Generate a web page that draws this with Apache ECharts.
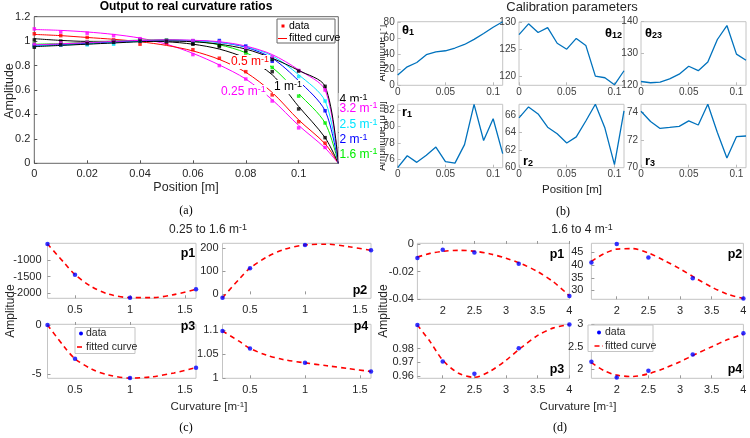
<!DOCTYPE html>
<html><head><meta charset="utf-8">
<script src="https://cdn.jsdelivr.net/npm/echarts@6.0.0/dist/echarts.min.js"></script>
<style>html,body{margin:0;padding:0;background:#fff}#c{width:750px;height:438px}</style>
</head><body><div id="c"></div>
<script>
// ---------- Panel (a): output to real curvature ratios ----------
const posA = [0, 0.01, 0.02, 0.03, 0.04, 0.05, 0.06, 0.07, 0.08, 0.09, 0.10, 0.11];
const posFitA = [0, 0.01, 0.02, 0.03, 0.04, 0.05, 0.06, 0.07, 0.08, 0.09, 0.10, 0.11, 0.115];
const curvLabels = ['0.25', '0.5', '1', '1.6', '2', '2.5', '3.2', '4'];
// measured points
const ampK025 = [1.10, 1.075, 1.065, 1.045, 1.015, 0.985, 0.89, 0.80, 0.69, 0.51, 0.29, 0.13];
const ampK05  = [1.06, 1.045, 1.03, 1.01, 0.975, 0.985, 0.93, 0.86, 0.75, 0.56, 0.34, 0.165];
const ampK1   = [1.01, 1.00, 0.99, 1.00, 1.01, 0.995, 0.975, 0.955, 0.875, 0.75, 0.445, 0.21];
const ampK16  = [0.98, 0.98, 0.99, 1.00, 1.01, 1.01, 1.00, 0.97, 0.905, 0.785, 0.55, 0.33];
const ampK2   = [0.965, 0.97, 0.98, 0.99, 1.005, 1.005, 1.00, 1.005, 0.96, 0.835, 0.655, 0.43];
const ampK25  = [0.96, 0.97, 0.97, 0.975, 1.00, 1.00, 1.00, 0.99, 0.945, 0.855, 0.71, 0.51];
const ampK32  = [0.975, 0.985, 0.99, 1.00, 1.02, 1.005, 1.005, 0.995, 0.945, 0.87, 0.76, 0.60];
const ampK4   = [0.95, 0.97, 0.98, 0.99, 1.00, 1.00, 0.98, 0.965, 0.92, 0.85, 0.755, 0.63];
// fitted curves
const fitK025 = [1.095, 1.088, 1.075, 1.055, 1.025, 0.975, 0.90, 0.805, 0.69, 0.52, 0.31, 0.125, 0];
const fitK05  = [1.055, 1.045, 1.03, 1.015, 0.995, 0.965, 0.92, 0.85, 0.745, 0.58, 0.355, 0.16, 0];
const fitK1   = [1.02, 1.006, 0.998, 0.998, 1.0, 0.995, 0.975, 0.935, 0.86, 0.725, 0.465, 0.21, 0];
const fitK16  = [0.975, 0.98, 0.99, 1.0, 1.008, 1.01, 1.0, 0.97, 0.905, 0.785, 0.57, 0.33, 0];
const fitK2   = [0.965, 0.972, 0.982, 0.993, 1.003, 1.008, 1.005, 0.99, 0.95, 0.86, 0.675, 0.43, 0];
const fitK25  = [0.96, 0.967, 0.977, 0.988, 0.998, 1.004, 1.003, 0.99, 0.955, 0.88, 0.725, 0.51, 0];
const fitK32  = [0.97, 0.978, 0.988, 0.998, 1.006, 1.01, 1.007, 0.995, 0.96, 0.89, 0.765, 0.60, 0];
const fitK4   = [0.955, 0.965, 0.975, 0.985, 0.995, 1.0, 0.995, 0.975, 0.935, 0.86, 0.76, 0.63, 0];
const ticksAx = [0, 0.02, 0.04, 0.06, 0.08, 0.1];
const ticksAy = [0, 0.2, 0.4, 0.6, 0.8, 1, 1.2];

// ---------- Panel (b): calibration parameters ----------
const posB = [0, 0.01, 0.02, 0.03, 0.04, 0.05, 0.06, 0.07, 0.08, 0.09, 0.10, 0.11];
const theta1  = [13, 23.5, 29, 39, 42.5, 44, 47.5, 52, 58.5, 66, 74, 81];
const theta12 = [127.7, 129.7, 128.1, 129.0, 126.1, 125.0, 127.0, 125.7, 120.0, 119.7, 118.4, 121.0];
const theta23 = [121.2, 120.8, 121.0, 122.0, 123.5, 126.0, 124.6, 127.3, 134.4, 138.8, 129.8, 127.9];
const r1 = [75.0, 76.45, 75.65, 76.5, 77.5, 75.75, 75.55, 77.8, 82.7, 78.3, 80.95, 76.7];
const r2 = [65.65, 66.9, 66.1, 64.6, 63.85, 62.8, 63.5, 65.3, 67.2, 64.5, 60.35, 66.45];
const r3 = [74.1, 73.35, 72.85, 72.92, 73.0, 73.4, 73.1, 74.6, 72.55, 70.7, 72.25, 72.3];
const ticksBx = [0, 0.05, 0.1];

// ---------- Panel (c): 0.25 to 1.6 m^-1 ----------
const curvC = [0.25, 0.5, 1, 1.6];
const cP1 = [-520, -1440, -2130, -1880];
const cP2 = [-15, 113, 213, 190];
const cP3 = [0, -3.45, -5.43, -4.36];
const cP4 = [1.098, 1.062, 1.032, 1.014];
const fitXC = [0.25, 0.4, 0.5, 0.65, 0.8, 1.0, 1.2, 1.4, 1.6];
const fitC1 = [-520, -1080, -1440, -1800, -2020, -2130, -2130, -2040, -1880];
const fitC2 = [-15, 65, 113, 160, 192, 213, 216, 205, 190];
const fitC3 = [0, -2.2, -3.45, -4.5, -5.1, -5.43, -5.3, -4.9, -4.36];
const fitC4 = [1.098, 1.077, 1.062, 1.048, 1.039, 1.032, 1.026, 1.02, 1.014];

// ---------- Panel (d): 1.6 to 4 m^-1 ----------
const curvD = [1.6, 2, 2.5, 3.2, 4];
const dP1 = [-0.0102, -0.0041, -0.0061, -0.0143, -0.0376];
const dP2 = [41.0, 48.3, 43.0, 34.8, 26.8];
const dP3 = [0.9971, 0.9706, 0.9617, 0.9801, 0.9975];
const dP4 = [2.17, 1.82, 1.97, 2.33, 2.80];
const fitXD = [1.6, 1.8, 2.0, 2.25, 2.5, 2.75, 3.0, 3.25, 3.5, 3.75, 4.0];
const fitD1 = [-0.0095, -0.0068, -0.0053, -0.0046, -0.0052, -0.0072, -0.0103, -0.0145, -0.0200, -0.0275, -0.0375];
const fitD2 = [41.5, 44.5, 46.3, 46.5, 44.8, 41.8, 38.5, 34.8, 31.3, 28.5, 26.8];
const fitD3 = [0.997, 0.985, 0.9715, 0.962, 0.959, 0.9635, 0.9715, 0.981, 0.9895, 0.995, 0.9975];
const fitD4 = [2.15, 1.97, 1.87, 1.84, 1.90, 2.02, 2.17, 2.34, 2.50, 2.66, 2.78];

// ================= build =================
const FF = 'Liberation Sans';
const grids = [], xAxes = [], yAxes = [], series = [], graphics = [];
const pair = (xs, ys) => ys.map((v, i) => [xs[i], v]);

function axis(min, max, ticks, o) {
  o = o || {};
  return {
    type: 'value', min: min, max: max,
    axisLine: {show: false}, splitLine: {show: false},
    axisTick: {show: true, inside: true, length: o.tl || 3, customValues: ticks, lineStyle: {color: o.tc || '#999'}},
    axisLabel: {customValues: ticks, fontSize: o.fs || 11, color: o.lc || '#262626', fontFamily: FF,
      margin: o.m == null ? 4 : o.m, formatter: v => String(v)}
  };
}
function panel(box, xa, ya, border) {
  const gi = grids.length;
  grids.push({left: box[0], top: box[1], width: box[2], height: box[3], show: true,
    borderColor: border || '#c4c4c4', borderWidth: 1, backgroundColor: 'transparent'});
  xa.gridIndex = gi; ya.gridIndex = gi;
  xAxes.push(xa); yAxes.push(ya);
  return gi;
}
function txt(x, y, main, sup, o) {
  o = o || {};
  const fs = o.fs || 12, c = o.color || '#262626', fw = o.bold ? 'bold' : 'normal', fam = o.fam || FF;
  const sfs = o.sfs || Math.round(fs * 0.72);
  return {type: 'text', x: x, y: y, z: o.z || 100, rotation: o.rot || 0,
    style: {text: '{m|' + main + '}' + (sup ? '{s|' + sup + '}' : '') + (o.tail ? '{m|' + o.tail + '}' : ''),
      align: o.align || 'center', verticalAlign: 'middle',
      backgroundColor: o.bg || 'transparent', padding: o.bg ? [0, 1, 0, 1] : 0,
      rich: {
        m: {fontSize: fs, fill: c, fontFamily: fam, fontWeight: fw, lineHeight: Math.round(fs * 1.15)},
        s: {fontSize: sfs, fill: c, fontFamily: fam, fontWeight: fw, verticalAlign: o.sub ? 'bottom' : 'top', lineHeight: sfs}
      }}};
}

// ---- (a) ----
const gA = panel([34.3, 16.7, 304, 146.6],
  axis(0, 0.115, ticksAx, {m: 5, tc: '#555'}),
  axis(0, 1.2, ticksAy, {m: 4, tc: '#555'}), '#666');
const dotsA = [ampK025, ampK05, ampK1, ampK16, ampK2, ampK25, ampK32, ampK4];
const fitsA = [fitK025, fitK05, fitK1, fitK16, fitK2, fitK25, fitK32, fitK4];
const colorsA = ['#ff00ff', '#ff0000', '#000000', '#00ee00', '#0000ff', '#00e5ff', '#ff00ff', '#000000'];
fitsA.forEach((vals, k) => {
  series.push({type: 'line', name: curvLabels[k] + ' fit', xAxisIndex: gA, yAxisIndex: gA,
    data: pair(posFitA, vals), smooth: 0.3, showSymbol: false,
    lineStyle: {color: colorsA[k], width: 1}, z: 2 + k, animation: false, silent: true});
  series.push({type: 'scatter', name: curvLabels[k] + ' data', xAxisIndex: gA, yAxisIndex: gA,
    data: pair(posA, dotsA[k]), symbol: 'rect', symbolSize: 3.5,
    itemStyle: {color: colorsA[k]}, z: 12 + k, animation: false, silent: true});
});

// ---- (b) ----
const bx = [397.7, 519, 641], bw = 105;
const bRow = [[21.7, 63.6], [104.3, 63.4]];
const bSets = [
  [theta1, 0, 81, [0, 20, 40, 60, 80]],
  [theta12, 118.3, 130.1, [120, 125, 130]],
  [theta23, 120, 140, [120, 130, 140]],
  [r1, 75, 82.7, [76, 78, 80, 82]],
  [r2, 60, 67.2, [60, 62, 64, 66]],
  [r3, 70, 74.6, [70, 72, 74]]
];
bSets.forEach((s, i) => {
  const row = Math.floor(i / 3), col = i % 3;
  const g = panel([bx[col], bRow[row][0], bw, bRow[row][1]],
    axis(0, 0.11, ticksBx, {fs: 10, lc: '#404040', m: 2, tc: '#bbb'}),
    axis(s[1], s[2], s[3], {fs: 10, lc: '#404040', m: 3, tc: '#bbb'}));
  series.push({type: 'line', xAxisIndex: g, yAxisIndex: g, data: pair(posB, s[0]),
    showSymbol: false, lineStyle: {color: '#0072BD', width: 1.3}, animation: false, silent: true});
});

// ---- (c) & (d) ----
function pPanel(box, xr, xt, yr, yt, xs, ys, fx, fy, ym) {
  const g = panel(box, axis(xr[0], xr[1], xt, {m: 6, fs: 11}), axis(yr[0], yr[1], yt, {m: ym, fs: 11}));
  series.push({type: 'line', xAxisIndex: g, yAxisIndex: g, data: pair(fx, fy), smooth: 0.3,
    showSymbol: false, lineStyle: {color: '#ff0000', width: 1.6, type: [5, 4]}, z: 3, animation: false, silent: true});
  series.push({type: 'scatter', xAxisIndex: g, yAxisIndex: g, data: pair(xs, ys), symbolSize: 4.5,
    itemStyle: {color: '#0000ff'}, z: 5, animation: false, silent: true});
}
const cxT = [0.5, 1, 1.5], dxT = [2, 2.5, 3, 3.5, 4];
pPanel([47.5, 243.3, 148.5, 55], [0.25, 1.6], cxT, [-2150, -500], [-2000, -1500, -1000], curvC, cP1, fitXC, fitC1, 6);
pPanel([222.5, 243.3, 148.5, 55], [0.25, 1.6], cxT, [-17, 220], [0, 100, 200], curvC, cP2, fitXC, fitC2, 4);
pPanel([47.5, 324.3, 148.5, 54], [0.25, 1.6], cxT, [-5.45, 0.07], [-5, 0], curvC, cP3, fitXC, fitC3, 6);
pPanel([222.5, 324.3, 148.5, 54], [0.25, 1.6], cxT, [1.0, 1.112], [1, 1.05, 1.1], curvC, cP4, fitXC, fitC4, 4);
pPanel([417.4, 243.3, 152, 56], [1.6, 4], dxT, [-0.04, 0.0005], [-0.04, -0.02, 0], curvD, dP1, fitXD, fitD1, 3.5);
pPanel([591.4, 243.3, 152, 56], [1.6, 4], dxT, [26.5, 48.6], [30, 35, 40, 45], curvD, dP2, fitXD, fitD2, 8);
pPanel([417.4, 324.3, 152, 54], [1.6, 4], dxT, [0.9583, 0.9976], [0.96, 0.97, 0.98], curvD, dP3, fitXD, fitD3, 3.5);
pPanel([591.4, 324.3, 152, 54], [1.6, 4], dxT, [1.8, 3.0], [2, 2.5, 3], curvD, dP4, fitXD, fitD4, 8);

// ---- text / annotations ----
const G = graphics;
// (a)
G.push(txt(186, 7, 'Output to real curvature ratios', null, {fs: 12, bold: true, color: '#000'}));
G.push(txt(10, 91, 'Amplitude', null, {fs: 12.5, rot: Math.PI / 2}));
G.push(txt(186, 188, 'Position [m]', null, {fs: 12.5}));
G.push(txt(230, 62, '0.5 m', '-1', {fs: 12, color: '#ff0000', bg: '#fff', align: 'left'}));
G.push(txt(273, 87, '1 m', '-1', {fs: 12, color: '#000', bg: '#fff', align: 'left'}));
G.push(txt(220, 92, '0.25 m', '-1', {fs: 12, color: '#ff00ff', bg: '#fff', align: 'left'}));
const rightLab = [['4 m', 100, '#000'], ['3.2 m', 108.5, '#ff00ff'], ['2.5 m', 125, '#00e5ff'], ['2 m', 140, '#0000ff'], ['1.6 m', 154.5, '#00ee00']];
rightLab.forEach(r => G.push(txt(338.5, r[1], r[0], '-1', {fs: 12, color: r[2], bg: '#fff', align: 'left'})));
// legend (a)
G.push({type: 'rect', z: 90, shape: {x: 277, y: 19, width: 58, height: 24}, style: {fill: '#fff', stroke: '#666', lineWidth: 1}});
G.push({type: 'rect', z: 100, shape: {x: 281.5, y: 24.5, width: 3, height: 3}, style: {fill: '#ff0000'}});
G.push({type: 'line', z: 100, shape: {x1: 278, y1: 38.5, x2: 287, y2: 38.5}, style: {stroke: '#ff0000', lineWidth: 1}});
G.push(txt(289, 26, 'data', null, {fs: 10.5, align: 'left', color: '#000'}));
G.push(txt(289, 38.5, 'fitted curve', null, {fs: 10.5, align: 'left', color: '#000'}));
G.push(txt(186, 211, '(a)', null, {fs: 12, fam: 'Liberation Serif', color: '#000'}));

// (b)
G.push(txt(572, 7, 'Calibration parameters', null, {fs: 13}));
G.push(txt(572, 190, 'Position [m]', null, {fs: 11.5}));
G.push(txt(382, 53, 'Amplitude [°]', null, {fs: 10, rot: Math.PI / 2, z: 80}));
G.push(txt(382, 136, 'Amplitude [\u03bc m]', null, {fs: 10, rot: Math.PI / 2, z: 80}));
G.push({type: 'rect', z: 85, shape: {x: 375.5, y: 0, width: 4.5, height: 180}, style: {fill: '#fff'}});
G.push(txt(402, 30, '\u03b8', '1', {fs: 13, bold: true, color: '#000', align: 'left', sub: true, sfs: 9}));
G.push(txt(605, 33, '\u03b8', '12', {fs: 13, bold: true, color: '#000', align: 'left', sub: true, sfs: 9}));
G.push(txt(645, 33, '\u03b8', '23', {fs: 13, bold: true, color: '#000', align: 'left', sub: true, sfs: 9}));
G.push(txt(402, 112, 'r', '1', {fs: 13, bold: true, color: '#000', align: 'left', sub: true, sfs: 9}));
G.push(txt(523, 161, 'r', '2', {fs: 13, bold: true, color: '#000', align: 'left', sub: true, sfs: 9}));
G.push(txt(645, 161, 'r', '3', {fs: 13, bold: true, color: '#000', align: 'left', sub: true, sfs: 9}));
G.push(txt(563, 212, '(b)', null, {fs: 12, fam: 'Liberation Serif', color: '#000'}));

// (c)
G.push(txt(208, 230, '0.25 to 1.6 m', '-1', {fs: 12}));
G.push(txt(10.5, 311, 'Amplitude', null, {fs: 12, rot: Math.PI / 2}));
G.push(txt(209, 407, 'Curvature [m', '-1', {fs: 11.5, tail: ']'}));
G.push(txt(188, 254, 'p1', null, {fs: 12.5, bold: true, color: '#000'}));
G.push(txt(360, 291, 'p2', null, {fs: 12.5, bold: true, color: '#000'}));
G.push(txt(188, 327, 'p3', null, {fs: 12.5, bold: true, color: '#000'}));
G.push(txt(361, 327, 'p4', null, {fs: 12.5, bold: true, color: '#000'}));
G.push({type: 'rect', z: 90, shape: {x: 75, y: 327.5, width: 60, height: 26}, style: {fill: '#fff', stroke: '#c4c4c4', lineWidth: 1}});
G.push({type: 'circle', z: 100, shape: {cx: 81, cy: 333.5, r: 2}, style: {fill: '#0000ff'}});
G.push({type: 'line', z: 100, shape: {x1: 77, y1: 347, x2: 85, y2: 347}, style: {stroke: '#ff0000', lineWidth: 1.6, lineDash: [5, 3]}});
G.push(txt(86, 333.5, 'data', null, {fs: 10.5, align: 'left'}));
G.push(txt(86, 347, 'fitted curve', null, {fs: 10.5, align: 'left'}));
G.push(txt(186, 428, '(c)', null, {fs: 12, fam: 'Liberation Serif', color: '#000'}));

// (d)
G.push(txt(582, 230, '1.6 to 4 m', '-1', {fs: 12}));
G.push(txt(384, 311, 'Amplitude', null, {fs: 12, rot: Math.PI / 2}));
G.push(txt(578, 407, 'Curvature [m', '-1', {fs: 11.5, tail: ']'}));
G.push(txt(557, 255, 'p1', null, {fs: 12.5, bold: true, color: '#000'}));
G.push(txt(735, 255, 'p2', null, {fs: 12.5, bold: true, color: '#000'}));
G.push(txt(557, 370, 'p3', null, {fs: 12.5, bold: true, color: '#000'}));
G.push(txt(735, 370, 'p4', null, {fs: 12.5, bold: true, color: '#000'}));
G.push({type: 'rect', z: 90, shape: {x: 588, y: 325, width: 65, height: 26.5}, style: {fill: '#fff', stroke: '#c4c4c4', lineWidth: 1}});
G.push({type: 'circle', z: 100, shape: {cx: 599, cy: 332.5, r: 2}, style: {fill: '#0000ff'}});
G.push({type: 'line', z: 100, shape: {x1: 594.5, y1: 346, x2: 603, y2: 346}, style: {stroke: '#ff0000', lineWidth: 1.6, lineDash: [5, 3]}});
G.push(txt(605, 332.5, 'data', null, {fs: 10.5, align: 'left'}));
G.push(txt(605, 346, 'fitted curve', null, {fs: 10.5, align: 'left'}));
G.push(txt(560, 428, '(d)', null, {fs: 12, fam: 'Liberation Serif', color: '#000'}));

const chart = echarts.init(document.getElementById('c'), null, {renderer: 'canvas'});
chart.setOption({
  animation: false, backgroundColor: '#fff',
  grid: grids, xAxis: xAxes, yAxis: yAxes, series: series, graphic: graphics
});
</script></body></html>
